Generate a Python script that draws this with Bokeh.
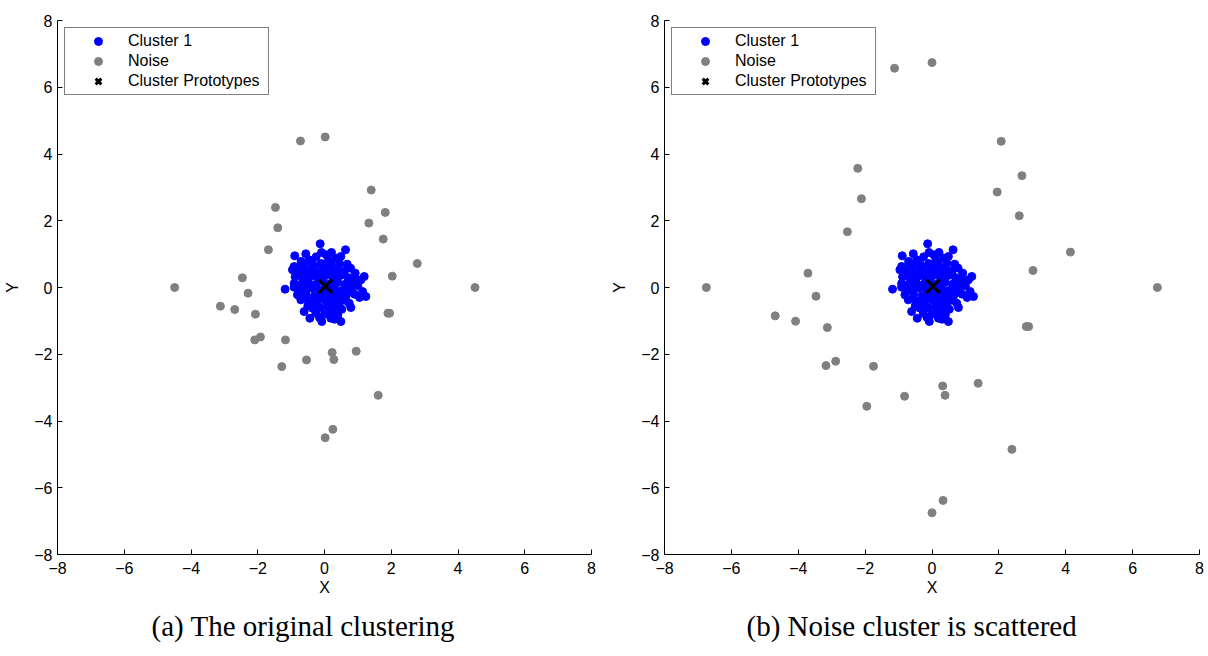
from bokeh.plotting import figure
from bokeh.models import Range1d, FixedTicker, Legend, LegendItem, Title
from bokeh.layouts import row
from bokeh.embed import file_html
from bokeh.resources import INLINE

# ---------------- data ----------------
ticks = [-8, -6, -4, -2, 0, 2, 4, 6, 8]

cluster_pts = [
    (-0.13, 1.31), (-0.09, 1.05), (0.21, 1.05), (0.63, 1.13), (0.49, 0.93), (-0.56, 1.01),
    (-0.89, 0.95), (-0.46, 0.83), (0.05, 0.98), (0.35, 0.88), (-0.25, 0.92), (0.12, 0.82),
    (-0.70, 0.78), (-0.91, 0.63), (-0.60, 0.65), (-0.35, 0.70), (-0.10, 0.72), (0.20, 0.68),
    (0.45, 0.72), (0.68, 0.70), (-0.78, 0.55), (-0.96, 0.53), (-0.72, 0.45), (-0.50, 0.52),
    (-0.28, 0.48), (-0.05, 0.55), (0.15, 0.50), (0.38, 0.55), (0.60, 0.50), (0.92, 0.43),
    (0.78, 0.58), (-0.88, 0.32), (-0.65, 0.28), (-0.42, 0.33), (-0.20, 0.30), (0.02, 0.35),
    (0.25, 0.30), (0.48, 0.36), (0.70, 0.30), (1.09, 0.23), (1.19, 0.33), (0.88, 0.25),
    (-0.91, 0.12), (-0.70, 0.10), (-0.48, 0.15), (-0.25, 0.10), (-0.05, 0.18), (0.18, 0.12),
    (0.40, 0.15), (0.62, 0.10), (0.85, 0.12), (1.00, 0.05), (-1.18, -0.05), (-0.91, 0.01),
    (-0.60, -0.05), (-0.38, -0.02), (-0.15, -0.08), (0.10, -0.03), (0.30, -0.06), (0.59, -0.07),
    (0.80, -0.02), (1.14, -0.12), (-0.81, -0.22), (-0.55, -0.20), (-0.30, -0.25), (-0.08, -0.18),
    (0.15, -0.22), (0.38, -0.20), (0.65, -0.25), (0.90, -0.20), (1.24, -0.27), (1.05, -0.30),
    (-0.71, -0.37), (-0.48, -0.40), (-0.22, -0.42), (0.02, -0.38), (0.25, -0.40), (0.44, -0.47),
    (0.74, -0.47), (0.60, -0.38), (-0.61, -0.72), (-0.36, -0.62), (-0.12, -0.60), (0.10, -0.58),
    (0.30, -0.62), (0.79, -0.60), (0.52, -0.65), (-0.50, -0.55), (-0.44, -0.92), (-0.26, -0.77),
    (0.00, -0.80), (0.20, -0.78), (0.40, -0.82), (-0.15, -0.90), (-0.08, -1.02), (0.19, -0.92),
    (0.49, -1.02), (0.30, -0.95), (-0.30, 0.60), (0.30, 0.45), (-0.40, 0.05), (0.50, -0.10),
    (0.00, 0.00), (-0.20, -0.35), (0.30, 0.20), (-0.60, 0.40), (0.10, 0.62), (-0.10, 0.40),
    (0.45, -0.30), (-0.35, -0.50), (0.15, -0.45), (0.70, -0.10), (-0.75, -0.10),
]
cluster_x = [p[0] for p in cluster_pts]
cluster_y = [p[1] for p in cluster_pts]

noise_a_x = [-1.47, -1.40, -1.68, -2.46, -2.29, -4.49, -3.12, -2.69, -2.07, -2.09, -1.92,
             -1.17, -1.28, -0.54, -0.72, 0.02, 1.40, 1.82, 1.33, 1.76, 2.78, 2.03, 4.51,
             1.90, 1.95, 0.23, 0.28, 0.95, 1.61, 0.02, 0.25]
noise_a_y = [2.40, 1.79, 1.13, 0.29, -0.17, 0.00, -0.56, -0.66, -0.80, -1.57, -1.48,
             -1.57, -2.37, -2.17, 4.39, 4.51, 2.92, 2.25, 1.93, 1.45, 0.72, 0.34, 0.00,
             -0.77, -0.77, -1.95, -2.16, -1.91, -3.23, -4.50, -4.25]

noise_b_x = [-1.12, 0.00, -2.22, -2.11, -2.53, -3.71, -3.47, -6.75, -4.69, -4.08, -3.13,
             -3.17, -2.88, -1.75, -0.82, -1.95, 0.00, 2.07, 2.69, 1.95, 2.61, 4.14, 3.02,
             6.74, 2.82, 2.89, 0.32, 0.39, 1.38, 2.39, 0.33]
noise_b_y = [6.57, 6.74, 3.57, 2.66, 1.67, 0.43, -0.26, 0.00, -0.85, -1.01, -1.20,
             -2.34, -2.21, -2.36, -3.26, -3.56, -6.75, 4.38, 3.35, 2.86, 2.15, 1.06, 0.51,
             0.00, -1.17, -1.17, -2.95, -3.23, -2.87, -4.85, -6.38]

proto_x = [0.03]
proto_y = [0.04]

labels = ["Cluster 1", "Noise", "Cluster Prototypes"]
captions = ["(a) The original clustering", "(b) Noise cluster is scattered"]

SANS = "Liberation Sans"


def make_fig(nx, ny, border_left, border_right, caption, cap_offset):
    p = figure(width=604, height=656, x_range=Range1d(-8, 8), y_range=Range1d(-8, 8),
               output_backend="svg", toolbar_location=None,
               min_border_left=border_left, min_border_right=border_right,
               min_border_top=20, min_border_bottom=102)
    p.grid.visible = False
    p.outline_line_color = None
    p.background_fill_color = "white"
    p.border_fill_color = "white"

    overrides = {t: ("\u2212" + str(abs(t)) if t < 0 else str(t)) for t in ticks}
    for ax in (p.xaxis[0], p.yaxis[0]):
        ax.ticker = FixedTicker(ticks=ticks)
        ax.major_label_overrides = overrides
        ax.minor_tick_line_color = None
        ax.major_tick_in = 5
        ax.major_tick_out = 0
        ax.axis_line_color = "black"
        ax.major_tick_line_color = "black"
        ax.major_label_text_font = SANS
        ax.major_label_text_font_size = "16px"
        ax.major_label_text_color = "black"
        ax.axis_label_text_font = SANS
        ax.axis_label_text_font_size = "16px"
        ax.axis_label_text_font_style = "normal"
        ax.axis_label_text_color = "black"
    p.xaxis.axis_label = "X"
    p.yaxis.axis_label = "Y"
    p.xaxis.major_label_standoff = 7
    p.xaxis.axis_label_standoff = 2
    p.yaxis.major_label_standoff = 5
    p.yaxis.axis_label_standoff = 10

    r1 = p.scatter(cluster_x, cluster_y, marker="circle", size=8,
                   fill_color="#0000ff", line_color="#0000ff")
    r2 = p.scatter(nx, ny, marker="circle", size=8,
                   fill_color="#808080", line_color="#808080")
    r3 = p.scatter(proto_x, proto_y, marker="x", size=19, line_width=3,
                   line_color="black")

    legend = Legend(items=[LegendItem(label=labels[0], renderers=[r1]),
                           LegendItem(label=labels[1], renderers=[r2]),
                           LegendItem(label=labels[2], renderers=[r3])],
                    location="top_left", margin=7, padding=3, spacing=0,
                    glyph_width=60, glyph_height=20, label_height=20,
                    label_width=137, label_standoff=0,
                    label_text_font=SANS, label_text_font_size="16px",
                    label_text_color="black",
                    border_line_color="black", border_line_width=1,
                    background_fill_color="white", background_fill_alpha=1.0)
    p.add_layout(legend, "center")

    cap = Title(text=caption, text_font="Liberation Serif", text_font_size="29px",
                text_font_style="normal", text_color="black", align="left",
                offset=cap_offset, standoff=18)
    p.add_layout(cap, "below")
    return p


p1 = make_fig(noise_a_x, noise_a_y, 57, 13, captions[0], 94)
p2 = make_fig(noise_b_x, noise_b_y, 60, 9, captions[1], 82)
layout = row(p1, p2)

open("out.html", "w").write(file_html(layout, INLINE))
